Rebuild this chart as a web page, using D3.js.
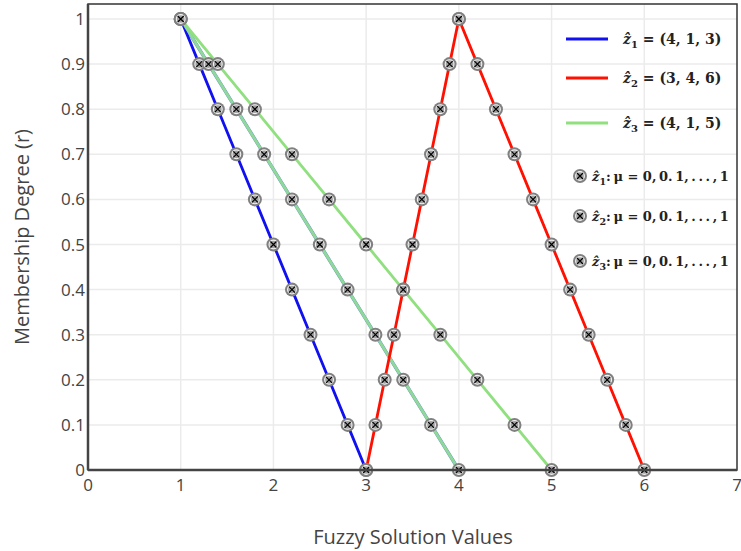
<!DOCTYPE html>
<html>
<head>
<meta charset="utf-8">
<script src="https://cdn.jsdelivr.net/npm/d3@7"></script>
<style>
  body { margin: 0; background: #fff; }
  text { font-family: "Open Sans", sans-serif; }
  .leg { font-family: "DejaVu Serif", serif; font-weight: bold; font-size: 14px; fill: #222; }
</style>
</head>
<body>
<svg id="chart" width="741" height="551"></svg>
<script>
// membership levels 0, 0.1, ..., 1
const mu = [0, 0.1, 0.2, 0.3, 0.4, 0.5, 0.6, 0.7, 0.8, 0.9, 1];

// each side as [value at mu=0, value at mu=1]
const z1 = [3, 1];
const z2Left = [3, 4];
const z2Right = [6, 4];
const z3a = [4, 1];
const z3b = [5, 1];

const xTicks = [0, 1, 2, 3, 4, 5, 6, 7];
const yTicks = [0, 0.1, 0.2, 0.3, 0.4, 0.5, 0.6, 0.7, 0.8, 0.9, 1];
const yTickLabels = ['0', '0.1', '0.2', '0.3', '0.4', '0.5', '0.6', '0.7', '0.8', '0.9', '1'];

const legendLines = [
    { name: 'ẑ', sub: '1', rest: ' = (4, 1, 3)', color: '#1010f0' },
    { name: 'ẑ', sub: '2', rest: ' = (3, 4, 6)', color: '#ff1000' },
    { name: 'ẑ', sub: '3', rest: ' = (4, 1, 5)', color: '#90e080' }
];
const legendMarks = ['1', '2', '3'];

const svg = d3.select('#chart');
const mLeft = 88, mRight = 737, mTop = 4, mBottom = 470;

const x = d3.scaleLinear().domain([0, 7]).range([mLeft, mRight]);
const y = d3.scaleLinear().domain([0, 1]).range([mBottom, 19]);

// grid
svg.append('g').selectAll('line')
    .data(xTicks.slice(1, -1))
    .enter().append('line')
    .attr('x1', d => x(d)).attr('x2', d => x(d))
    .attr('y1', mTop).attr('y2', mBottom)
    .attr('stroke', '#ebebeb').attr('stroke-width', 1.5);
svg.append('g').selectAll('line')
    .data(yTicks.slice(1))
    .enter().append('line')
    .attr('x1', mLeft).attr('x2', mRight)
    .attr('y1', d => y(d)).attr('y2', d => y(d))
    .attr('stroke', '#ebebeb').attr('stroke-width', 1.5);

const side = ([a, b]) => mu.map(m => ({ x: a + (b - a) * m, y: m }));

const series = [
    { pts: side(z1), color: '#1010f0' },
    { pts: side(z3a), color: '#8fd99a' },
    { pts: side(z3b), color: '#90e080' },
    { pts: side(z2Left), color: '#ff1000' },
    { pts: side(z2Right), color: '#ff1000' }
];

const line = d3.line().x(d => x(d.x)).y(d => y(d.y));

// thin blue under the z3 line to 4, as in the picture
svg.append('path')
    .attr('d', line(series[1].pts))
    .attr('fill', 'none').attr('stroke', '#6a8fc0').attr('stroke-width', 3.4);

series.forEach(s => {
    svg.append('path')
        .attr('d', line(s.pts))
        .attr('fill', 'none')
        .attr('stroke', s.color)
        .attr('stroke-width', 2.8);
});

const drawMarker = (g, cx, cy) => {
    g.append('circle').attr('cx', cx).attr('cy', cy).attr('r', 7).attr('fill', '#808080');
    g.append('circle').attr('cx', cx).attr('cy', cy).attr('r', 4.4)
        .attr('fill', '#a0a0a0').attr('stroke', '#f2f2f2').attr('stroke-width', 1.1);
    const k = 3;
    g.append('path')
        .attr('d', `M${cx - k},${cy - k}L${cx + k},${cy + k}M${cx - k},${cy + k}L${cx + k},${cy - k}`)
        .attr('stroke', '#000').attr('stroke-width', 1.2);
};

const markers = svg.append('g');
series.forEach(s => s.pts.forEach(p => drawMarker(markers, x(p.x), y(p.y))));

// frame
svg.append('rect')
    .attr('x', mLeft).attr('y', mTop)
    .attr('width', mRight - mLeft).attr('height', mBottom - mTop)
    .attr('fill', 'none').attr('stroke', '#333').attr('stroke-width', 1.5);
svg.append('line').attr('x1', mLeft).attr('x2', mRight).attr('y1', mBottom).attr('y2', mBottom)
    .attr('stroke', '#444').attr('stroke-width', 2.5);
svg.append('line').attr('x1', mLeft).attr('x2', mLeft).attr('y1', mTop).attr('y2', mBottom)
    .attr('stroke', '#444').attr('stroke-width', 2.5);

// tick labels
svg.append('g').selectAll('text')
    .data(xTicks)
    .enter().append('text')
    .attr('x', d => x(d)).attr('y', mBottom + 21)
    .attr('text-anchor', 'middle')
    .attr('fill', '#444').style('font-size', '17px')
    .text(d => d);
svg.append('g').selectAll('text')
    .data(yTicks)
    .enter().append('text')
    .attr('x', mLeft - 3).attr('y', d => y(d) + 6)
    .attr('text-anchor', 'end')
    .attr('fill', '#444').style('font-size', '17px')
    .text((d, i) => yTickLabels[i]);

// axis titles
svg.append('text')
    .attr('x', 413).attr('y', 544)
    .attr('text-anchor', 'middle')
    .attr('fill', '#444').style('font-size', '20px')
    .text('Fuzzy Solution Values');
svg.append('text')
    .attr('transform', 'translate(29,237) rotate(-90)')
    .attr('text-anchor', 'middle')
    .attr('fill', '#444').style('font-size', '20px')
    .text('Membership Degree (r)');

// legend
const legY = [39, 78, 123];
legendLines.forEach((d, i) => {
    svg.append('line')
        .attr('x1', 566).attr('x2', 608)
        .attr('y1', legY[i]).attr('y2', legY[i])
        .attr('stroke', d.color).attr('stroke-width', 3);
    const t = svg.append('text').attr('class', 'leg')
        .attr('x', 623).attr('y', legY[i] + 5);
    t.append('tspan').style('font-style', 'italic').text(d.name);
    t.append('tspan').attr('dy', 4).style('font-size', '10px').text(d.sub);
    t.append('tspan').attr('dy', -4).text(d.rest);
});

const markY = [176, 216, 261];
legendMarks.forEach((d, i) => {
    drawMarker(svg, 580, markY[i]);
    const t = svg.append('text').attr('class', 'leg')
        .attr('x', 592).attr('y', markY[i] + 5).style('font-size', '13px');
    t.append('tspan').style('font-style', 'italic').text('ẑ');
    t.append('tspan').attr('dy', 4).style('font-size', '9.5px').text(d);
    t.append('tspan').attr('dy', -4)
        .text(':\u2009μ = 0,\u20090.\u20091,\u2009.\u2009.\u2009.\u2009,\u20091');
});
</script>
</body>
</html>
